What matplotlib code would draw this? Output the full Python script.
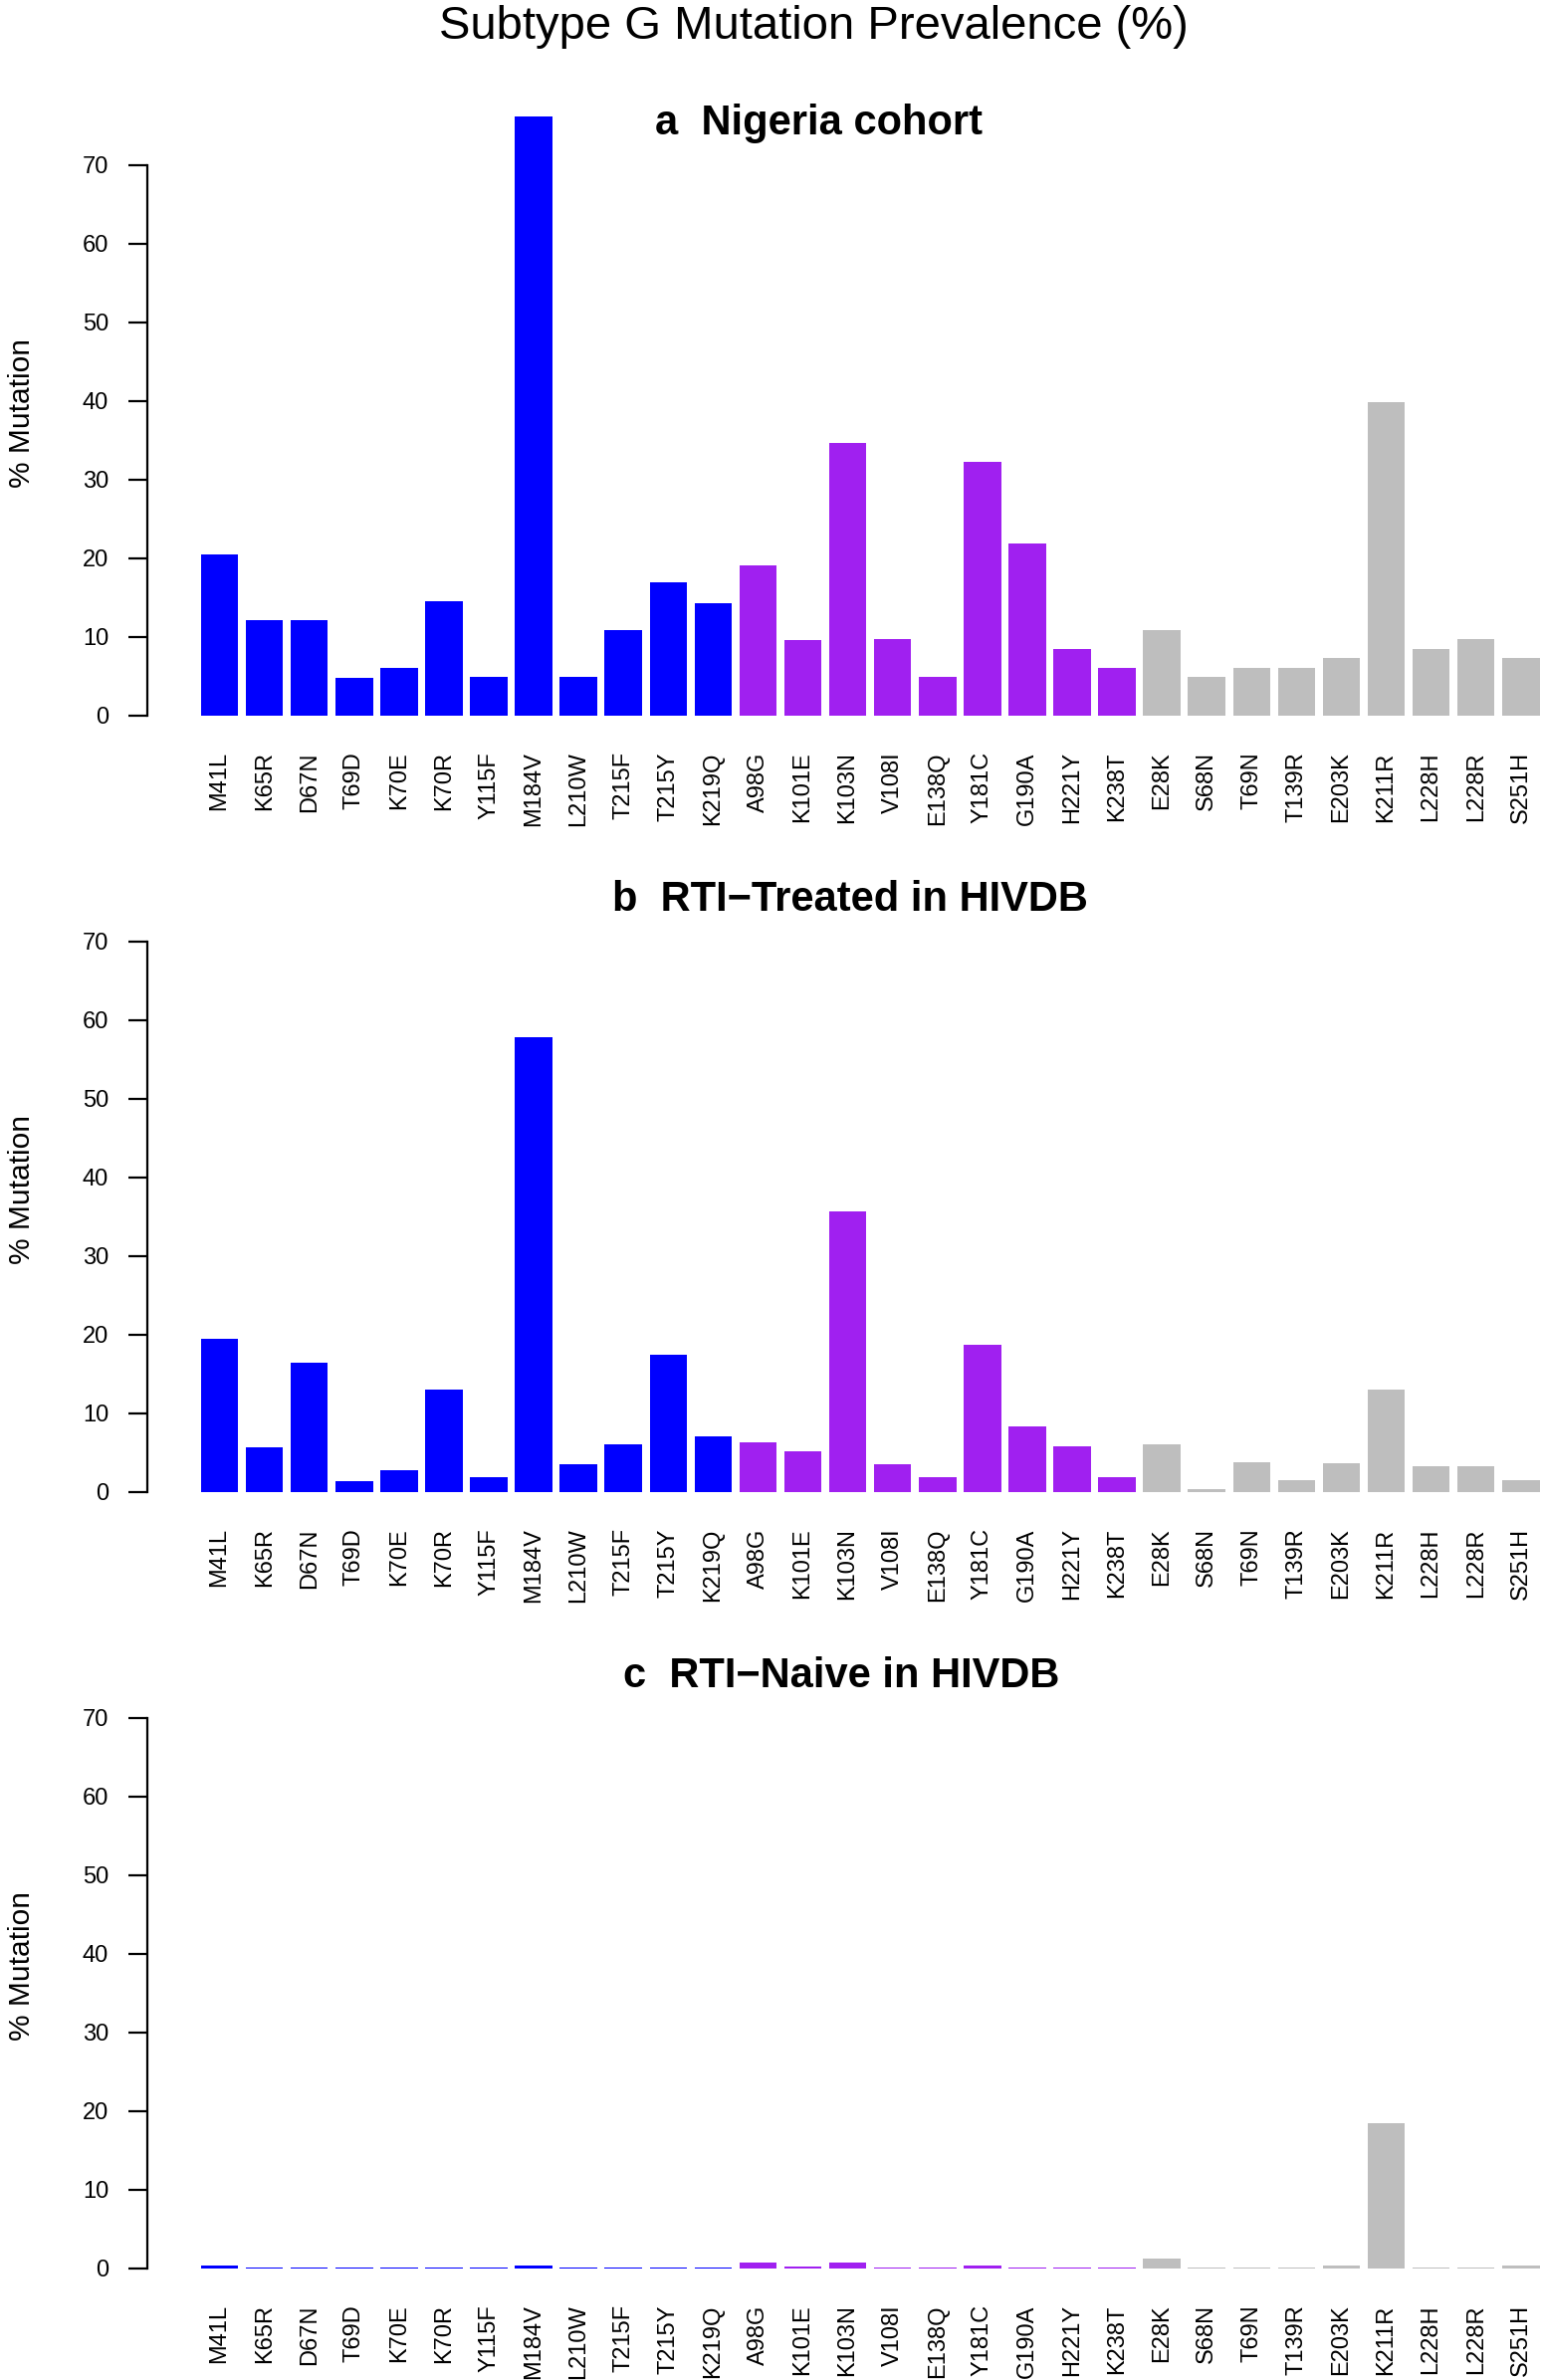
import matplotlib
matplotlib.use("Agg")
from matplotlib import pyplot as plt

plt.rcParams['font.family'] = ['Liberation Sans', 'DejaVu Sans']

mutations = ["M41L", "K65R", "D67N", "T69D", "K70E", "K70R", "Y115F", "M184V",
             "L210W", "T215F", "T215Y", "K219Q",
             "A98G", "K101E", "K103N", "V108I", "E138Q", "Y181C", "G190A",
             "H221Y", "K238T",
             "E28K", "S68N", "T69N", "T139R", "E203K", "K211R", "L228H",
             "L228R", "S251H"]
groups = ["NRTI"] * 12 + ["NNRTI"] * 9 + ["other"] * 9
group_colors = {"NRTI": "#0000FF", "NNRTI": "#A020F0", "other": "#BEBEBE"}

nigeria = [20.5, 12.1, 12.1, 4.8, 6.1, 14.5, 4.9, 76.2, 4.9, 10.9, 16.9, 14.3,
           19.1, 9.6, 34.6, 9.7, 4.9, 32.2, 21.8, 8.5, 6.1,
           10.9, 4.9, 6.0, 6.1, 7.3, 39.8, 8.5, 9.7, 7.3]
treated = [19.5, 5.7, 16.4, 1.4, 2.7, 13.0, 1.8, 57.8, 3.5, 6.0, 17.4, 7.1,
           6.3, 5.1, 35.6, 3.5, 1.9, 18.7, 8.3, 5.8, 1.8,
           6.1, 0.3, 3.7, 1.5, 3.6, 13.0, 3.3, 3.3, 1.5]
naive = [0.3, 0.03, 0.03, 0.03, 0.03, 0.15, 0.03, 0.4, 0.03, 0.03, 0.03, 0.15,
         0.7, 0.25, 0.7, 0.03, 0.03, 0.3, 0.03, 0.03, 0.03,
         1.2, 0.03, 0.15, 0.03, 0.33, 18.4, 0.15, 0.03, 0.3]

panel_titles = ["a  Nigeria cohort",
                "b  RTI\u2212Treated in HIVDB",
                "c  RTI\u2212Naive in HIVDB"]
panel_values = [nigeria, treated, naive]
title_x = [823, 854, 845]   # title centres in pixels

W, H = 1548, 2391
fig = plt.figure(figsize=(W / 100, H / 100), dpi=100)

# pixel layout (from top), R barplot style
ymin, ymax = -3.05, 79.25
px_per_unit = 7.9
xlim = (-1.232, 37.432)
x_left, x_right = 148, 1600.3
xpos = [0.7 + 1.2 * i for i in range(len(mutations))]
colors = [group_colors[g] for g in groups]

fig.text(817 / W, 1 - 27 / H, "Subtype G Mutation Prevalence (%)",
         ha='center', va='center', fontsize=34)

for k in range(3):
    vals = panel_values[k]
    y0 = 718.7 + 780 * k
    top = y0 - ymax * px_per_unit
    bottom = y0 - ymin * px_per_unit
    ax = fig.add_axes([x_left / W, 1 - bottom / H,
                       (x_right - x_left) / W, (bottom - top) / H])
    ax.bar(xpos, vals, width=1.0, color=colors, linewidth=0, clip_on=False)
    ax.set_xlim(*xlim)
    ax.set_ylim(ymin, ymax)
    for s in ["top", "right", "bottom"]:
        ax.spines[s].set_visible(False)
    ax.spines["left"].set_bounds(0, 70)
    ax.spines["left"].set_linewidth(1.6)
    ax.set_yticks(range(0, 71, 10))
    ax.tick_params(axis='y', length=14, width=1.6, pad=14, labelsize=17)
    ax.set_xticks(xpos)
    ax.set_xticklabels(mutations, rotation=90, fontsize=17)
    ax.tick_params(axis='x', length=0, pad=9)
    ax.patch.set_visible(False)

    fig.text(title_x[k] / W, 1 - (124 + 780 * k) / H, panel_titles[k],
             ha='center', va='center', fontsize=30, fontweight='bold')
    fig.text(22 / W, 1 - (y0 - 304) / H, "% Mutation", rotation=90,
             ha='center', va='center', fontsize=21.5)

fig.savefig("out.png", dpi=100)
